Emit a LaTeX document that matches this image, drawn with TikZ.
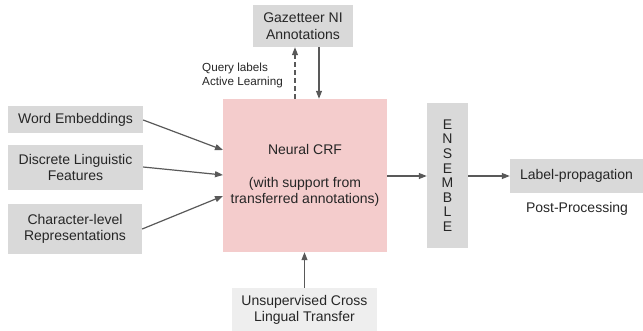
\documentclass[tikz,border=0pt]{standalone}
\usepackage{fontspec}
\setmainfont{Liberation Sans}
\usetikzlibrary{arrows.meta}
\definecolor{boxgray}{HTML}{D9D9D9}
\definecolor{lightgray}{HTML}{EEEEEE}
\definecolor{crfpink}{HTML}{F4CCCC}
\definecolor{arrowgray}{HTML}{595959}
\begin{document}
\begin{tikzpicture}[x=1pt,y=-1pt,
  box/.style={fill=boxgray,draw=none,inner sep=0pt,align=center,font=\fontsize{14}{16.5}\selectfont,text=black!85},
  arr/.style={draw=arrowgray,line width=1.2pt,-{Triangle[length=8pt,width=6pt]}},
  small/.style={font=\fontsize{11.7}{14}\selectfont,text=black!85,align=left,inner sep=0pt}]
\useasboundingbox (0,0) rectangle (643,330);
\node[box,minimum width=135pt,minimum height=27pt] (we) at (75.5,119.5) {Word Embeddings};
\node[box,minimum width=135pt,minimum height=45pt] (dl) at (75.5,167.5) {Discrete Linguistic\\Features};
\node[box,minimum width=134pt,minimum height=50pt] (cl) at (75,229) {Character-level\\Representations};
\node[box,fill=crfpink,minimum width=164pt,minimum height=153pt] (crf) at (305,175.5) {Neural CRF\\[16pt](with support from\\transferred annotations)};
\node[box,minimum width=100pt,minimum height=42pt] (gz) at (303,26) {Gazetteer NI\\Annotations};
\node[box,minimum width=41pt,minimum height=145pt,font=\fontsize{14}{14.6}\selectfont] (en) at (447.5,175.5) {E\\N\\S\\E\\M\\B\\L\\E};
\node[box,minimum width=133pt,minimum height=34pt] (lp) at (576.5,176) {Label-propagation};
\node[small,font=\fontsize{14}{16}\selectfont] (pp) at (577,209) {Post-Processing};
\node[box,fill=lightgray,minimum width=145pt,minimum height=44pt] (us) at (304.5,310) {Unsupervised Cross\\Lingual Transfer};
\node[small,anchor=west] (ql) at (202,75) {Query labels\\Active Learning};
\coordinate (we2) at (223,150);
\coordinate (dl2) at (223,175);
\coordinate (cl2) at (223,196);
\draw[arr] (we.east |- 0,120) -- (we2);
\draw[arr] (dl.east |- 0,167) -- (dl2);
\draw[arr] (cl.east |- 0,229) -- (cl2);
\draw[arr] (crf.east |- 0,176) -- (en.west |- 0,176);
\draw[arr] (en.east |- 0,176) -- (lp.west |- 0,176);
\draw[arr] (gz.south -| 319,0) -- (crf.north -| 319,0);
\draw[arr,dashed,dash pattern=on 5pt off 3pt] (crf.north -| 295,0) -- (gz.south -| 295,0);
\draw[arr] (us.north) -- (crf.south -| us.north);
\end{tikzpicture}
\end{document}
